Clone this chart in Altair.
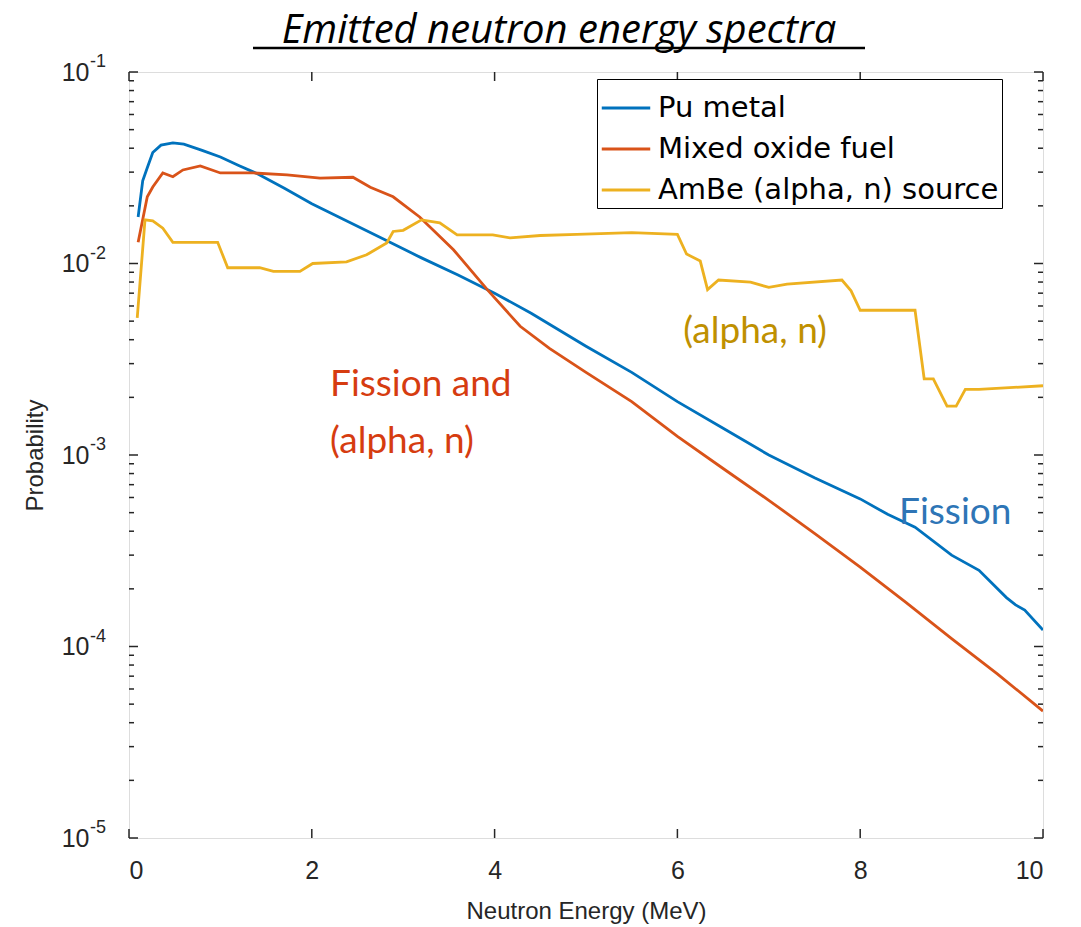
import altair as alt
import pandas as pd

# ---- data ----
pu_x = [0.1, 0.15, 0.2, 0.26, 0.35, 0.48, 0.6, 0.8, 1.0, 1.2, 1.4, 1.7, 2.0, 2.4, 2.8, 3.2, 3.6, 4.0, 4.4,
        5.0, 5.5, 6.0, 6.5, 7.0, 7.5, 8.0, 8.3, 8.6, 9.0, 9.3, 9.6, 9.7, 9.8, 10.0]
pu_y = [0.0175, 0.027, 0.0316, 0.038, 0.0415, 0.0426, 0.042, 0.039, 0.036, 0.0325, 0.0295, 0.0247, 0.0205,
        0.0165, 0.0133, 0.0107, 0.0087, 0.0070, 0.0055, 0.0037, 0.0027, 0.0019, 0.00138, 0.0010, 0.00076,
        0.00059, 0.00049, 0.00042, 0.0003, 0.00025, 0.00018, 0.000165, 0.000155, 0.000122]

mo_x = [0.1, 0.2, 0.26, 0.37, 0.48, 0.59, 0.78, 1.0, 1.36, 1.73, 2.09, 2.45, 2.64, 2.89, 3.18, 3.55, 3.92,
        4.28, 4.6, 5.0, 5.5, 6.0, 6.5, 7.0, 7.5, 8.0, 8.5, 9.0, 9.5, 10.0]
mo_y = [0.0129, 0.0223, 0.0251, 0.0297, 0.0284, 0.0308, 0.0323, 0.0297, 0.0297, 0.029, 0.0279, 0.0282,
        0.025, 0.0223, 0.0175, 0.0118, 0.0073, 0.0047, 0.0036, 0.0027, 0.0019, 0.00125, 0.00085, 0.00058,
        0.00039, 0.00026, 0.00017, 0.00011, 0.000072, 0.000046]

ab_x = [0.09, 0.175, 0.26, 0.37, 0.48, 0.97, 1.08, 1.43, 1.58, 1.87, 2.01, 2.38, 2.6, 2.82, 2.89, 3.0, 3.2,
        3.4, 3.59, 3.98, 4.17, 4.5, 4.9, 5.5, 6.0, 6.1, 6.25, 6.33, 6.45, 6.8, 7.0, 7.2, 7.8, 7.9, 8.0, 8.6,
        8.7, 8.8, 8.95, 9.05, 9.15, 9.3, 10.0]
ab_y = [0.0052, 0.0169, 0.0167, 0.0153, 0.0129, 0.0129, 0.0095, 0.0095, 0.0091, 0.0091, 0.0100, 0.0102,
        0.0111, 0.0128, 0.0147, 0.0149, 0.0169, 0.0163, 0.0141, 0.0141, 0.0136, 0.0140, 0.0142, 0.0145,
        0.0142, 0.0112, 0.0103, 0.0073, 0.0082, 0.0080, 0.0075, 0.0078, 0.0082, 0.0072, 0.0057, 0.0057,
        0.0025, 0.0025, 0.0018, 0.0018, 0.0022, 0.0022, 0.0023]

series_names = ["Pu metal", "Mixed oxide fuel", "AmBe (alpha, n) source"]
series_colors = ["#0072BD", "#D95319", "#EDB120"]

x_ticks = [0, 2, 4, 6, 8, 10]
y_ticks = [1e-5, 1e-4, 1e-3, 1e-2, 1e-1]
y_exponents = ["-5", "-4", "-3", "-2", "-1"]
y_minor = [m * 10.0 ** k for k in range(-5, -1) for m in range(2, 10)]

ann_text = ["(alpha, n)", "Fission and", "(alpha, n)", "Fission"]
ann_x = [6.85, 2.2, 2.2, 9.04]
ann_y = [0.0044, 0.00232, 0.00117, 0.0005]
ann_align = ["center", "left", "left", "center"]
ann_color = ["#BF9000", "#D63C10", "#D63C10", "#2E75B6"]

title_text = "Emitted neutron energy spectra"

W, H = 914, 766
AX = "#262626"

rows = []
for name, xs, ys in zip(series_names, [pu_x, mo_x, ab_x], [pu_y, mo_y, ab_y]):
    for i, (a, b) in enumerate(zip(xs, ys)):
        rows.append({"series": name, "E": a, "P": b, "order": i})
df = pd.DataFrame(rows)

xscale = alt.Scale(domain=[0, 10], nice=False, zero=False)
yscale = alt.Scale(type="log", domain=[1e-5, 1e-1], nice=False)

lines = alt.Chart(df).mark_line(strokeWidth=2.8, clip=True).encode(
    x=alt.X("E:Q", scale=xscale,
            axis=alt.Axis(values=x_ticks, format="d", title="Neutron Energy (MeV)", grid=False, ticks=False,
                          domain=False, labelFontSize=25, labelPadding=20, titleFontSize=24,
                          titlePadding=16, labelFont="Liberation Sans", titleFont="Liberation Sans",
                          labelColor=AX, titleColor=AX, titleFontWeight="normal")),
    y=alt.Y("P:Q", scale=yscale,
            axis=alt.Axis(values=y_ticks, labelExpr="'10'", title="Probability", grid=False,
                          ticks=False, domain=False, labelFontSize=25, labelPadding=40,
                          titleFontSize=24, titlePadding=14, labelFont="Liberation Sans",
                          titleFont="Liberation Sans", labelColor=AX, titleColor=AX,
                          titleFontWeight="normal")),
    color=alt.Color("series:N", scale=alt.Scale(domain=series_names, range=series_colors),
                    legend=alt.Legend(title=None, orient="none", legendX=468, legendY=7,
                                      symbolType="stroke", symbolSize=2350, symbolStrokeWidth=3,
                                      labelFontSize=29, labelFont="DejaVu Sans", labelColor="#000000",
                                      labelLimit=500, rowPadding=0, padding=3, strokeColor="#000000",
                                      fillColor="#FFFFFF", labelOffset=6)),
    order="order:Q",
)

xt = pd.DataFrame({"t": x_ticks})
yt = pd.DataFrame({"t": y_ticks, "e": y_exponents})
ym = pd.DataFrame({"t": y_minor})
tick_style = dict(color=AX, strokeWidth=1.5)

xt_bot = alt.Chart(xt).mark_rule(**tick_style).encode(x=alt.X("t:Q", scale=xscale), y=alt.value(H), y2=alt.value(H - 9))
xt_top = alt.Chart(xt).mark_rule(**tick_style).encode(x=alt.X("t:Q", scale=xscale), y=alt.value(0), y2=alt.value(9))
yt_l = alt.Chart(yt).mark_rule(**tick_style).encode(y=alt.Y("t:Q", scale=yscale), x=alt.value(0), x2=alt.value(9))
yt_r = alt.Chart(yt).mark_rule(**tick_style).encode(y=alt.Y("t:Q", scale=yscale), x=alt.value(W), x2=alt.value(W - 9))
ym_l = alt.Chart(ym).mark_rule(**tick_style).encode(y=alt.Y("t:Q", scale=yscale), x=alt.value(0), x2=alt.value(5))
ym_r = alt.Chart(ym).mark_rule(**tick_style).encode(y=alt.Y("t:Q", scale=yscale), x=alt.value(W), x2=alt.value(W - 5))

exps = alt.Chart(yt).mark_text(align="left", baseline="middle", fontSize=18, font="Liberation Sans",
                               color=AX, dy=-10).encode(
    y=alt.Y("t:Q", scale=yscale), x=alt.value(-39), text="e:N")

ann_df = pd.DataFrame({"text": ann_text, "x": ann_x, "y": ann_y, "align": ann_align, "color": ann_color})
ann_layers = []
for al in ["center", "left"]:
    sub = ann_df[ann_df["align"] == al]
    ann_layers.append(
        alt.Chart(sub).mark_text(align=al, baseline="middle", fontSize=37, font="Lato").encode(
            x=alt.X("x:Q", scale=xscale), y=alt.Y("y:Q", scale=yscale), text="text:N",
            color=alt.Color("color:N", scale=None))
    )

one = pd.DataFrame({"label": [title_text]})
title_mark = alt.Chart(one).mark_text(align="center", baseline="alphabetic", fontSize=40, font="Open Sans",
                                      fontStyle="italic", color="#000000").encode(
    x=alt.value(430), y=alt.value(-29), text="label:N")
underline = alt.Chart(one).mark_rule(color="#000000", strokeWidth=2.5).encode(
    x=alt.value(124), x2=alt.value(736), y=alt.value(-24))

chart = alt.layer(lines, xt_bot, xt_top, yt_l, yt_r, ym_l, ym_r, exps, *ann_layers, title_mark, underline).properties(
    width=W, height=H,
    autosize=alt.AutoSizeParams(type="none"),
    padding={"left": 129, "top": 72, "right": 38, "bottom": 89},
).configure_view(stroke=AX, strokeWidth=2).configure(background="#FFFFFF")

chart.save("out.html", embed_options={"renderer": "svg", "actions": False})
